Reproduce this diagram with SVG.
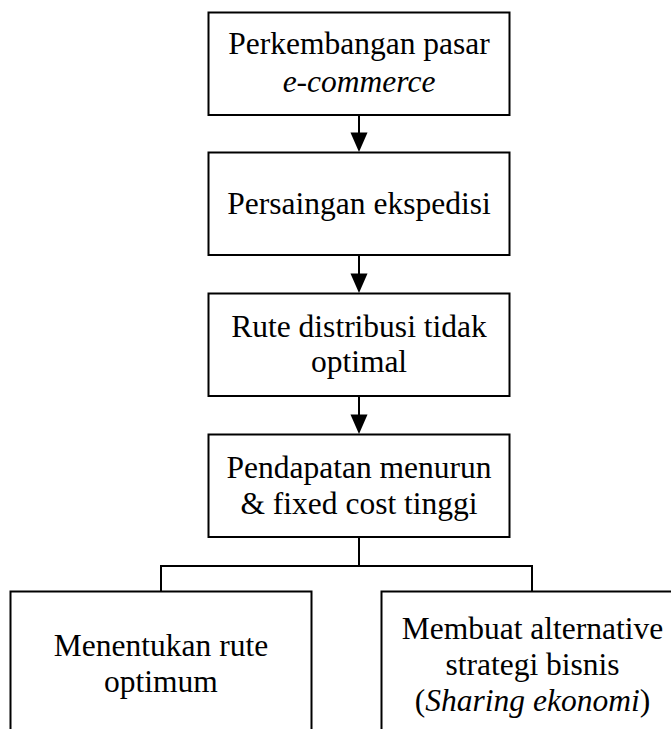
<svg xmlns="http://www.w3.org/2000/svg" width="671" height="729" viewBox="0 0 671 729">
<style>
.box{fill:#fff;stroke:#000;stroke-width:2}
.t{font-family:"Liberation Serif","Times New Roman",serif;font-size:31.5px;fill:#000;text-anchor:middle}
.i{font-style:italic}
.c{fill:none;stroke:#000;stroke-width:2}
.ah{fill:#000}
</style>
<rect width="671" height="729" fill="#fff"/>
<g id="connectors">
<path d="M359,115 L359,133" class="c"/><path class="ah" d="M350.5,132.5 L367.5,132.5 L359,152 Z"/>
<path d="M359,255 L359,274" class="c"/><path class="ah" d="M350.5,273.5 L367.5,273.5 L359,293 Z"/>
<path d="M359,396 L359,415" class="c"/><path class="ah" d="M350.5,414.5 L367.5,414.5 L359,434 Z"/>
<path d="M359,537 L359,566 M161,591 L161,566 L532,566 L532,591" class="c"/>
</g>
<g id="n1">
<rect class="box" x="208.5" y="12.5" width="301" height="102.5"/>
<text class="t" x="359" y="54">Perkembangan pasar</text>
<text class="t i" x="359" y="91.5">e-commerce</text>
</g>
<g id="n2">
<rect class="box" x="208.5" y="152.5" width="301" height="102.5"/>
<text class="t" x="359" y="213.5">Persaingan ekspedisi</text>
</g>
<g id="n3">
<rect class="box" x="208.5" y="293.5" width="301" height="102.5"/>
<text class="t" x="359" y="336.5">Rute distribusi tidak</text>
<text class="t" x="359" y="372">optimal</text>
</g>
<g id="n4">
<rect class="box" x="208.5" y="434.5" width="301" height="102.5"/>
<text class="t" x="359" y="477.5">Pendapatan menurun</text>
<text class="t" x="359" y="514">&amp; fixed cost tinggi</text>
</g>
<g id="n5">
<rect class="box" x="10.5" y="591.5" width="301" height="150"/>
<text class="t" x="161" y="656">Menentukan rute</text>
<text class="t" x="161" y="692">optimum</text>
</g>
<g id="n6">
<rect class="box" x="381.5" y="591.5" width="301" height="150"/>
<text class="t" x="532.5" y="638.5">Membuat alternative</text>
<text class="t" x="532.5" y="675">strategi bisnis</text>
<text class="t" x="532.5" y="711">(<tspan class="i">Sharing ekonomi</tspan>)</text>
</g>
</svg>
